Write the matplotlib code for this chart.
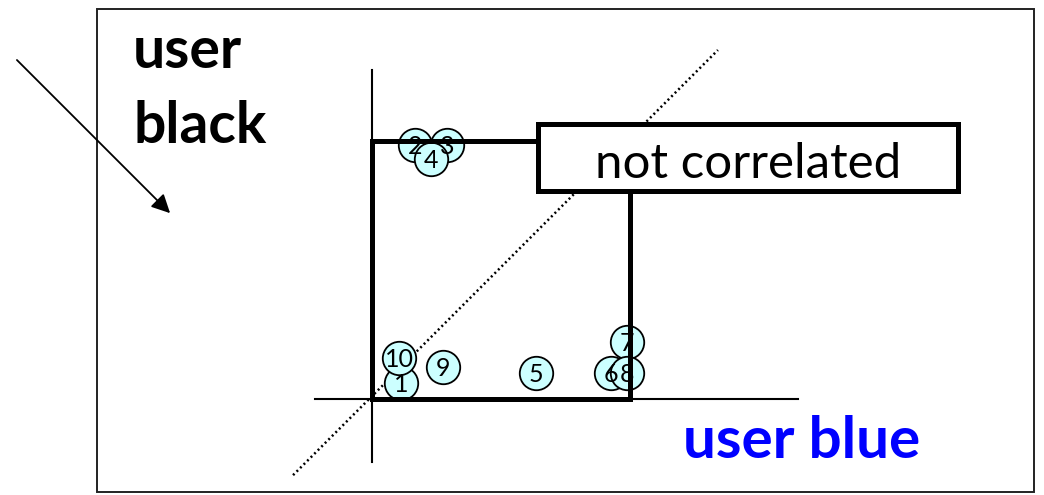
import matplotlib
matplotlib.use("Agg")
import matplotlib.pyplot as plt
from matplotlib.patches import Rectangle

# rank of each item for the two users (scaled 0..1)
labels = ['1', '2', '3', '4', '5', '6', '7', '8', '9', '10']
user_blue = [0.112, 0.167, 0.291, 0.229, 0.636, 0.926, 0.988, 0.988, 0.275, 0.105]
user_black = [0.062, 0.984, 0.984, 0.930, 0.101, 0.101, 0.221, 0.101, 0.124, 0.159]

plt.rcParams['font.family'] = ['Lato', 'DejaVu Sans']

fig = plt.figure(figsize=(10.44, 4.95), dpi=100)
ax = fig.add_axes([0, 0, 1, 1])
ax.set_xlim(-1.442, 2.605)
ax.set_ylim(-0.372, 1.547)
ax.axis('off')

# outer frame
ax.add_patch(Rectangle((-1.066, -0.361), 3.632, 1.872, fill=False,
                       lw=1.4, ec='#222222', zorder=1))

# axes cross
ax.plot([0, 0], [-0.244, 1.275], color='black', lw=1.5, zorder=2)
ax.plot([-0.221, 1.651], [0, 0], color='black', lw=1.5, zorder=2)

# diagonal (perfect correlation)
ax.plot([-0.306, 1.341], [-0.295, 1.353], color='black', lw=1.8,
        linestyle=(0, (0.8, 1.2)), zorder=2)

# points
ax.scatter(user_blue, user_black, s=580, facecolor='#ccffff',
           edgecolor='black', linewidth=1.3, zorder=3)
for x, y, t in zip(user_blue, user_black, labels):
    ax.text(x, y - 0.005, t, ha='center', va='center', fontsize=18, zorder=4)

# thick square
ax.plot([0, 0, 1, 1, 0], [0, 1, 1, 0, 0], color='black', lw=3.6,
        solid_joinstyle='miter', zorder=5)

# label box
ax.add_patch(Rectangle((0.643, 0.806), 1.628, 0.260, facecolor='white',
                       edgecolor='black', lw=3.6, zorder=6))
ax.text(1.457, 0.857, 'not correlated', ha='center', va='baseline',
        fontsize=35.5, zorder=7)

ax.text(-0.926, 1.283, 'user', ha='left', va='baseline', fontsize=41,
        fontweight='bold')
ax.text(-0.926, 0.992, 'black', ha='left', va='baseline', fontsize=41,
        fontweight='bold')
ax.text(1.205, -0.229, 'user blue', ha='left', va='baseline', fontsize=42,
        fontweight='bold', color='#0000ff')

# arrow
ax.annotate('', xy=(-0.775, 0.713), xytext=(-1.384, 1.322),
            arrowprops=dict(arrowstyle='-|>', color='black', lw=1.3,
                            mutation_scale=28))

fig.savefig('out.png', dpi=100)
